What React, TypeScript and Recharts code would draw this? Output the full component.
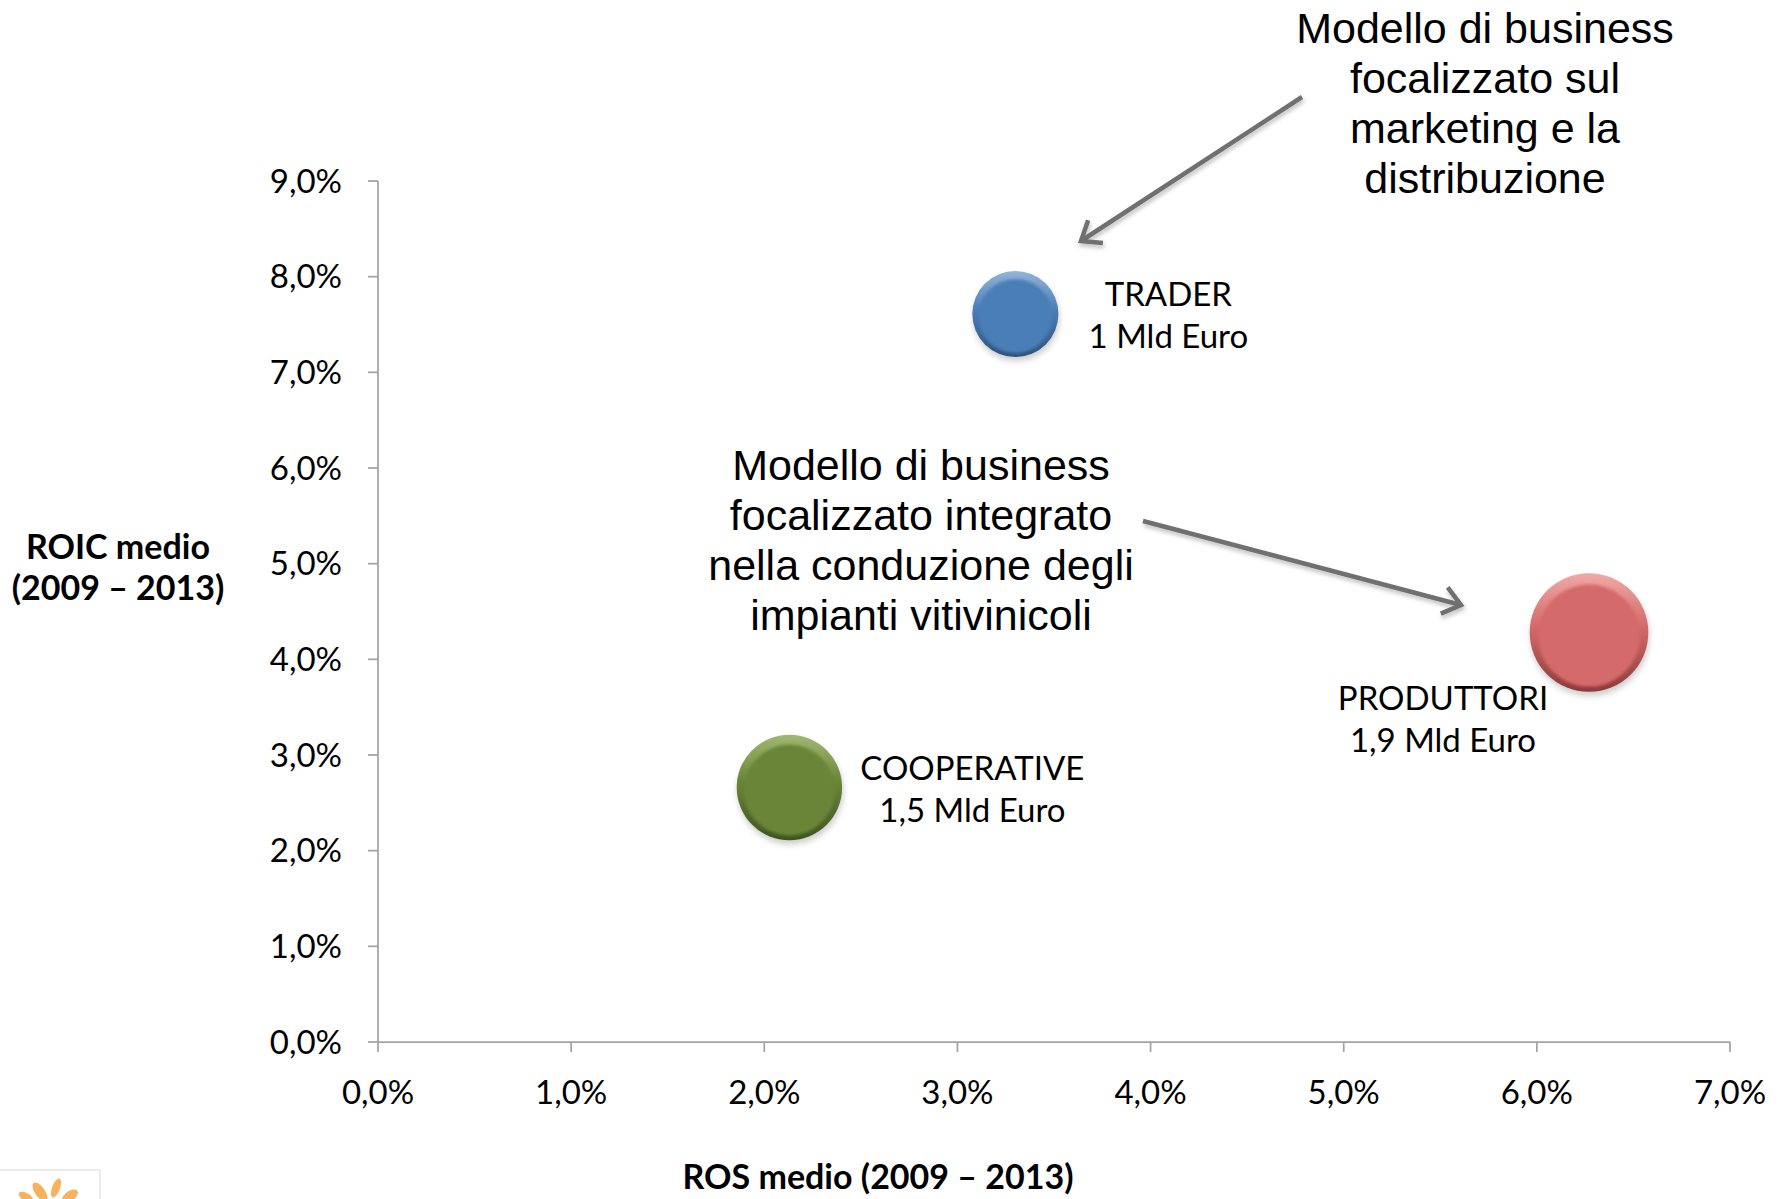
import React from "react";
import { ScatterChart, Scatter, XAxis, YAxis, ZAxis } from "recharts";

// data
const categories = ["TRADER", "COOPERATIVE", "PRODUTTORI"];
const rosValues = [3.3, 2.13, 6.27];
const roicValues = [7.61, 2.66, 4.28];
const revenueValues = [1, 1.5, 1.9];
const revenueLabels = ["1 Mld Euro", "1,5 Mld Euro", "1,9 Mld Euro"];
const xTicks = [0, 1, 2, 3, 4, 5, 6, 7];
const yTicks = [0, 1, 2, 3, 4, 5, 6, 7, 8, 9];

const topNote = [
  "Modello di business",
  "focalizzato sul",
  "marketing e la",
  "distribuzione",
];
const midNote = [
  "Modello di business",
  "focalizzato integrato",
  "nella conduzione degli",
  "impianti vitivinicoli",
];

const W = 1783;
const H = 1199;
const SANS = "Lato, 'Open Sans', sans-serif";
const ARIAL = "'Liberation Sans', Arial, sans-serif";
const AXIS = "#a3a3a3";

const palette: Record<string, { base: string; light: string; dark: string }> = {
  TRADER: { base: "#4a7eb6", light: "#93b5da", dark: "#2c527c" },
  COOPERATIVE: { base: "#6a8537", light: "#a0b870", dark: "#3f5320" },
  PRODUTTORI: { base: "#d46a69", light: "#f0a9a7", dark: "#8c3b3a" },
};

// label placement relative to the bubble centre (px)
const labelOffset: Record<string, { dx: number; dy: number }> = {
  TRADER: { dx: 153, dy: -8 },
  COOPERATIVE: { dx: 183, dy: -8 },
  PRODUTTORI: { dx: -146, dy: 77 },
};

const pct = (v: number) => `${v.toFixed(1).replace(".", ",")}%`;

const seriesData = categories.map((name, i) => [
  {
    name,
    x: rosValues[i],
    y: roicValues[i],
    z: revenueValues[i],
    sub: revenueLabels[i],
  },
]);

function Bubble(props: any) {
  const { cx, cy, width, size, payload } = props;
  if (cx == null || cy == null) return null;
  const r = width ? width / 2 : Math.sqrt((size || 0) / Math.PI);
  const name: string = payload.name;
  const c = palette[name];
  const off = labelOffset[name];
  const id = `b-${name}`;
  return (
    <g>
      <defs>
        <linearGradient id={`${id}-rim`} x1="0" y1="0" x2="0" y2="1">
          <stop offset="0" stopColor={c.light} />
          <stop offset="0.45" stopColor={c.base} />
          <stop offset="1" stopColor={c.dark} />
        </linearGradient>
        <filter id={`${id}-soft`} x="-30%" y="-30%" width="160%" height="160%">
          <feGaussianBlur stdDeviation="3" />
        </filter>
        <filter id={`${id}-inner`} x="-20%" y="-20%" width="140%" height="140%">
          <feGaussianBlur stdDeviation="1.6" />
        </filter>
      </defs>
      <circle
        cx={cx + 1}
        cy={cy + 4}
        r={r}
        fill="#000"
        opacity={0.2}
        filter={`url(#${id}-soft)`}
      />
      <circle cx={cx} cy={cy} r={r} fill={`url(#${id}-rim)`} />
      <circle
        cx={cx}
        cy={cy + r * 0.05}
        r={r * 0.86}
        fill={c.base}
        filter={`url(#${id}-inner)`}
      />
      <text
        x={cx + off.dx}
        y={cy + off.dy}
        textAnchor="middle"
        fontFamily={SANS}
        fontSize={33}
        fill="#000"
      >
        <tspan x={cx + off.dx}>{name}</tspan>
        <tspan x={cx + off.dx} dy={42}>
          {payload.sub}
        </tspan>
      </text>
    </g>
  );
}

function Arrow({ x1, y1, x2, y2 }: { x1: number; y1: number; x2: number; y2: number }) {
  const a = Math.atan2(y2 - y1, x2 - x1);
  const len = 22;
  const spread = (38 * Math.PI) / 180;
  const p1 = [x2 - len * Math.cos(a - spread), y2 - len * Math.sin(a - spread)];
  const p2 = [x2 - len * Math.cos(a + spread), y2 - len * Math.sin(a + spread)];
  return (
    <g stroke="#6f6f6f" strokeWidth={4.5} fill="none" filter="url(#arrowShadow)">
      <line x1={x1} y1={y1} x2={x2} y2={y2} />
      <polyline
        points={`${p1[0]},${p1[1]} ${x2},${y2} ${p2[0]},${p2[1]}`}
        strokeLinejoin="miter"
      />
    </g>
  );
}

function Overlay() {
  return (
    <svg
      width={W}
      height={H}
      style={{ position: "absolute", left: 0, top: 0, pointerEvents: "none" }}
    >
      <defs>
        <filter id="arrowShadow" x="-10%" y="-10%" width="130%" height="130%">
          <feDropShadow dx="1" dy="3" stdDeviation="2" floodColor="#000" floodOpacity="0.25" />
        </filter>
      </defs>
      {topNote.map((t, i) => (
        <text
          key={t}
          x={1485}
          y={43 + i * 50}
          textAnchor="middle"
          fontFamily={ARIAL}
          fontSize={43}
          fill="#000"
        >
          {t}
        </text>
      ))}
      {midNote.map((t, i) => (
        <text
          key={t}
          x={921}
          y={480 + i * 50}
          textAnchor="middle"
          fontFamily={ARIAL}
          fontSize={43}
          fill="#000"
        >
          {t}
        </text>
      ))}
      <Arrow x1={1302} y1={97} x2={1081} y2={241} />
      <Arrow x1={1143} y1={521} x2={1461} y2={605} />

      <text
        x={118}
        y={559}
        textAnchor="middle"
        fontFamily={SANS}
        fontWeight="bold"
        fontSize={34}
        fill="#000"
      >
        ROIC medio
      </text>
      <text
        x={118}
        y={600}
        textAnchor="middle"
        fontFamily={SANS}
        fontWeight="bold"
        fontSize={34}
        fill="#000"
      >
        (2009 – 2013)
      </text>
      <text
        x={878}
        y={1189}
        textAnchor="middle"
        fontFamily={SANS}
        fontWeight="bold"
        fontSize={34}
        fill="#000"
      >
        ROS medio (2009 – 2013)
      </text>

      {/* cut-off logo in the corner */}
      <g>
        <rect x={-1} y={1170} width={101} height={40} fill="#fff" stroke="#d8d8d8" />
        <g fill="#f5a540" opacity={0.85}>
          <ellipse cx={40} cy={1192} rx={5} ry={11} transform="rotate(-35 40 1192)" />
          <ellipse cx={56} cy={1188} rx={4} ry={10} transform="rotate(20 56 1188)" />
          <ellipse cx={70} cy={1196} rx={5} ry={9} transform="rotate(55 70 1196)" />
          <ellipse cx={26} cy={1197} rx={4} ry={8} transform="rotate(-60 26 1197)" />
        </g>
      </g>
    </svg>
  );
}

export default function App() {
  return (
    <div
      style={{
        position: "absolute",
        left: 0,
        top: 0,
        width: W,
        height: H,
        background: "#fff",
        overflow: "hidden",
      }}
    >
      <ScatterChart
        width={W}
        height={H}
        margin={{ top: 181, right: 53, bottom: 97, left: 0 }}
      >
        <XAxis
          type="number"
          dataKey="x"
          domain={[0, 7]}
          ticks={xTicks}
          interval={0}
          tickFormatter={pct}
          height={60}
          tickSize={10}
          tickMargin={29}
          axisLine={{ stroke: AXIS, strokeWidth: 1.75 }}
          tickLine={{ stroke: AXIS, strokeWidth: 1.75 }}
          tick={{ fontSize: 33, fill: "#000", fontFamily: SANS }}
        />
        <YAxis
          type="number"
          dataKey="y"
          domain={[0, 9]}
          ticks={yTicks}
          interval={0}
          tickFormatter={pct}
          width={378}
          tickSize={10}
          tickMargin={26}
          axisLine={{ stroke: AXIS, strokeWidth: 1.75 }}
          tickLine={{ stroke: AXIS, strokeWidth: 1.75 }}
          tick={{ fontSize: 33, fill: "#000", fontFamily: SANS }}
        />
        <ZAxis type="number" dataKey="z" domain={[0, 1.9]} range={[0, 11050]} />
        {seriesData.map((d, i) => (
          <Scatter
            key={categories[i]}
            name={categories[i]}
            data={d}
            fill={palette[categories[i]].base}
            shape={<Bubble />}
            isAnimationActive={false}
          />
        ))}
      </ScatterChart>
      <Overlay />
    </div>
  );
}
